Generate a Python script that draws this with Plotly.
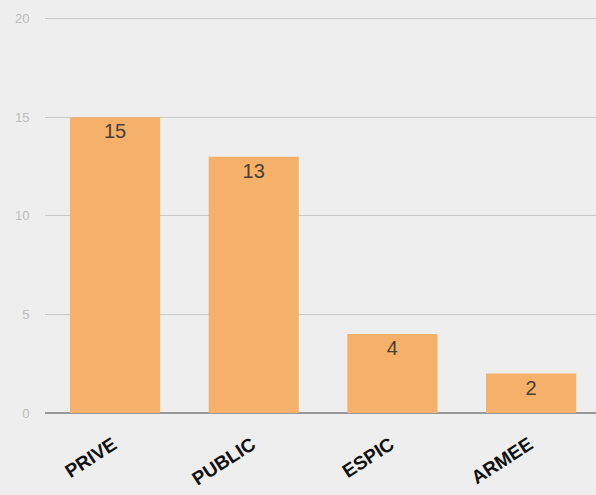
import plotly.graph_objects as go

categories = ["PRIVE", "PUBLIC", "ESPIC", "ARMEE"]
values = [15, 13, 4, 2]
y_ticks = [0, 5, 10, 15, 20]

fig = go.Figure(go.Bar(
    x=categories, y=values,
    marker=dict(color="#f5b06a", line=dict(width=0)),
    width=0.65,
    text=[str(v) for v in values],
    textposition="inside", insidetextanchor="end",
    textfont=dict(family="Arial, Liberation Sans", size=20, color="#4a3f35"),
    textangle=0,
    cliponaxis=False,
    hoverinfo="skip",
))

fig.update_layout(
    width=596, height=495,
    margin=dict(l=45, r=0, t=17, b=82),
    paper_bgcolor="#eeeeee", plot_bgcolor="#eeeeee",
    showlegend=False,
    xaxis=dict(
        tickangle=-33,
        tickfont=dict(family="Arial, Liberation Sans", size=19, color="#111111"),
        ticks="", ticklabelstandoff=16, ticklabelshift=-2,
        showgrid=False, showline=False, zeroline=False,
        range=[-0.505, 3.468],
        tickprefix="<b>", ticksuffix="</b>",
    ),
    yaxis=dict(
        range=[0, 20.08], tickvals=y_ticks,
        tickfont=dict(family="Arial, Liberation Sans", size=13, color="#bbbbbb"),
        gridcolor="#c8c8c8", gridwidth=1,
        zeroline=True, zerolinecolor="#999999", zerolinewidth=2,
        showline=False, ticks="outside", ticklen=12, tickcolor="rgba(0,0,0,0)",
    ),
)

fig.write_html("out.html", config={"displayModeBar": False},
               post_script="document.body.style.margin='0';document.body.style.overflow='hidden';")
